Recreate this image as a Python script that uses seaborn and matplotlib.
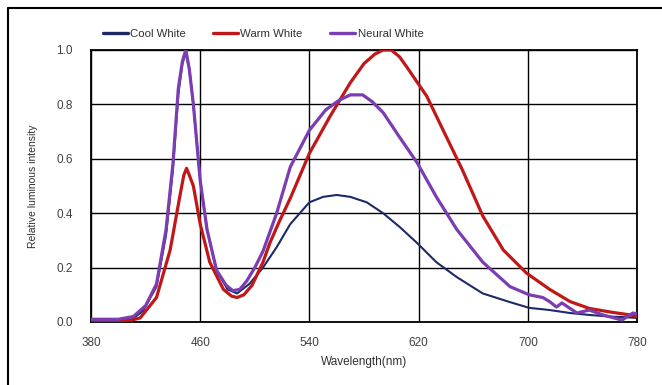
import numpy as np
import pandas as pd
import matplotlib
matplotlib.use("Agg")
import matplotlib.pyplot as plt
from matplotlib.lines import Line2D
import seaborn as sns

# ---- data ----
cool_wl = [380, 400, 410, 418, 428, 435, 440, 444, 447, 449.5, 452, 455, 460, 465, 472, 480, 487, 496, 506, 516,
           526, 540, 550, 560, 570, 582, 594, 606, 619, 633, 648, 667, 687, 701, 716, 731, 745, 760, 770, 780]
cool_val = [0.005, 0.005, 0.01, 0.04, 0.13, 0.32, 0.56, 0.84, 0.95, 0.99, 0.93, 0.80, 0.52, 0.34, 0.19, 0.12, 0.105, 0.14, 0.20, 0.275,
            0.36, 0.44, 0.46, 0.467, 0.46, 0.44, 0.40, 0.35, 0.29, 0.22, 0.165, 0.105, 0.073, 0.052, 0.044, 0.033, 0.026, 0.02, 0.018, 0.015]

warm_wl = [380, 400, 410, 416, 428, 438, 445, 448, 450, 452, 455, 460, 467, 477, 483, 487, 492, 498, 506, 511, 518, 526, 540,
           555, 570, 580, 588, 594, 600, 606, 611, 626, 638, 652, 667, 682, 699, 716, 731, 745, 760, 775, 780]
warm_val = [0.005, 0.005, 0.007, 0.015, 0.09, 0.265, 0.46, 0.54, 0.565, 0.54, 0.50, 0.36, 0.22, 0.12, 0.095, 0.09, 0.10, 0.135, 0.22, 0.29, 0.37, 0.455, 0.62,
            0.755, 0.88, 0.95, 0.985, 1.0, 1.0, 0.975, 0.94, 0.83, 0.705, 0.56, 0.39, 0.265, 0.18, 0.12, 0.075, 0.05, 0.037, 0.026, 0.02]

neu_wl = [380, 400, 411, 420, 428, 435, 440, 444, 447, 449.5, 452, 455, 460, 465, 472, 479, 484, 489, 494, 500, 506, 516, 526, 540, 552, 562, 570,
          579, 586, 594, 606, 619, 633, 648, 667, 687, 701, 711, 716, 721, 725, 736, 745, 755, 769, 777, 780]
neu_val = [0.01, 0.01, 0.02, 0.06, 0.14, 0.34, 0.58, 0.86, 0.96, 1.0, 0.93, 0.80, 0.52, 0.34, 0.19, 0.135, 0.115, 0.12, 0.15, 0.20, 0.26, 0.40, 0.57, 0.705, 0.78, 0.816, 0.835,
           0.835, 0.81, 0.77, 0.68, 0.585, 0.46, 0.34, 0.22, 0.13, 0.10, 0.09, 0.075, 0.055, 0.07, 0.033, 0.044, 0.026, 0.007, 0.033, 0.03]

series_names = ["Cool White", "Warm White", "Neural White"]
x_ticks = [380, 460, 540, 620, 700, 780]
y_ticks = [0.0, 0.2, 0.4, 0.6, 0.8, 1.0]

df = pd.concat([
    pd.DataFrame({"wl": cool_wl, "val": cool_val, "series": series_names[0]}),
    pd.DataFrame({"wl": warm_wl, "val": warm_val, "series": series_names[1]}),
    pd.DataFrame({"wl": neu_wl, "val": neu_val, "series": series_names[2]}),
])

colors = {"Cool White": "#1d2a68", "Warm White": "#c01818", "Neural White": "#7a3db2"}
widths = {"Cool White": 1.5, "Warm White": 2.3, "Neural White": 2.3}

sns.set_theme(style="white")
plt.rcParams["font.family"] = ["Liberation Sans", "DejaVu Sans"]

fig = plt.figure(figsize=(6.62, 3.85), dpi=100)
ax = fig.add_axes([91 / 662, 1 - 322 / 385, (637 - 91) / 662, (322 - 50) / 385])

for name in ["Cool White", "Warm White", "Neural White"]:
    sns.lineplot(data=df[df["series"] == name], x="wl", y="val", color=colors[name],
                 linewidth=widths[name], ax=ax, legend=False,
                 solid_joinstyle="round", solid_capstyle="round",
                 zorder=3 if name != "Cool White" else 2)

ax.set_xlim(380, 780)
ax.set_ylim(0, 1.0)
ax.set_xticks(x_ticks)
ax.set_xticklabels([str(t) for t in x_ticks])
ax.set_yticks(y_ticks)
ax.set_yticklabels([f"{t:.1f}" for t in y_ticks])
ax.tick_params(axis="x", length=0, labelsize=8.5, colors="#404040", pad=10.5)
ax.tick_params(axis="y", length=0, labelsize=8.5, colors="#404040", pad=13)
ax.grid(True, color="black", linewidth=1.0)
ax.set_axisbelow(True)
for s in ax.spines.values():
    s.set_color("black")
    s.set_linewidth(1.3)
ax.set_xlabel("Wavelength(nm)", fontsize=8.5, color="#303030")
ax.set_ylabel("Relative luminous intensity", fontsize=7.5, color="#303030")
ax.xaxis.set_label_coords(0.5, -(356 - 322) / 272, transform=ax.transAxes)
ax.yaxis.set_label_coords(-(91 - 38) / 546, 0.5, transform=ax.transAxes)

handles = [Line2D([0], [0], color=colors[n], linewidth=2.4) for n in series_names]
fig.legend(handles, series_names, loc="center", bbox_to_anchor=(263 / 662, 1 - 34 / 385),
           ncol=3, frameon=False, fontsize=8.2, handlelength=2.2, handletextpad=0.2,
           columnspacing=2.4, labelcolor="#303030")

# outer border (left and top edges)
fig.add_artist(Line2D([8 / 662, 8 / 662], [0, 1 - 8 / 385], transform=fig.transFigure, color="black", linewidth=1.5))
fig.add_artist(Line2D([8 / 662, 1], [1 - 8 / 385, 1 - 8 / 385], transform=fig.transFigure, color="black", linewidth=1.5))

fig.savefig("out.png", dpi=100)
